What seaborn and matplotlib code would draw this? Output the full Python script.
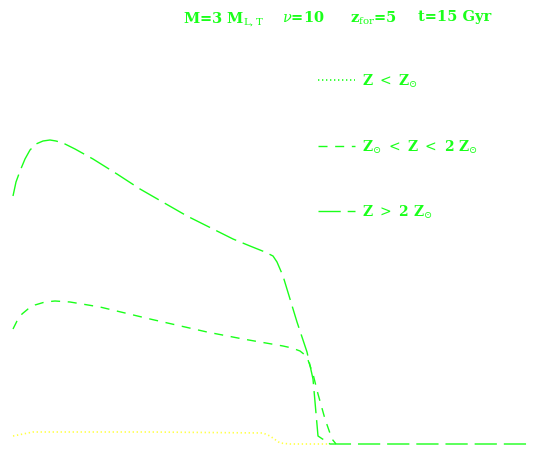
import numpy as np
import pandas as pd
import matplotlib
matplotlib.use("Agg")
import matplotlib.pyplot as plt
import seaborn as sns

# --- data (x in arbitrary units, y = height above baseline) ---
x_low = [13, 33, 60, 150, 263, 270, 280, 290, 330]
y_low = [8, 12, 12, 12, 11, 8, 1, 0, 0]

x_mid = [13, 17, 22, 28, 35, 45, 55, 70, 100, 150, 207, 243, 283, 292, 300, 305, 308,
         313, 318, 325, 332, 336]
y_mid = [115, 123, 130, 135, 139, 142, 143, 142, 137, 125, 112, 105, 98, 96, 93, 89, 84,
         70, 50, 25, 5, 0]

x_high = [13, 16, 20, 25, 30, 36, 43, 50, 56, 63, 75, 93, 117, 140, 187, 233, 250, 265,
          273, 277, 283, 297, 307, 313, 318, 330, 530]
y_high = [248, 262, 273, 285, 294, 300, 303, 304, 303, 301, 295, 285, 270, 255, 228, 205,
          198, 192, 188, 182, 168, 122, 92, 65, 8, 0, 0]

labels = [r"Z $<$ Z$_{\odot}$",
          r"Z$_{\odot}$ $<$ Z $<$ 2 Z$_{\odot}$",
          r"Z $>$ 2 Z$_{\odot}$"]

title_parts = [r"M=3 M$_{\rm L,T}$", r"$\nu$=10", r"z$_{\rm for}$=5", "t=15 Gyr"]

GREEN = "#1aff1a"
YELLOW = "#ffff44"

sns.set_style("white")
plt.rcParams["font.family"] = ["DejaVu Serif"]
plt.rcParams["mathtext.fontset"] = "dejavuserif"

fig = plt.figure(figsize=(5.34, 4.52), dpi=100)
ax = fig.add_axes([0, 0, 1, 1])

df_low = pd.DataFrame({"x": x_low, "y": y_low})
df_mid = pd.DataFrame({"x": x_mid, "y": y_mid})
df_high = pd.DataFrame({"x": x_high, "y": y_high})

sns.lineplot(data=df_low, x="x", y="y", ax=ax, sort=False, color=YELLOW,
             linestyle=(0, (0.8, 1.6)), linewidth=1.2, label=labels[0])
sns.lineplot(data=df_mid, x="x", y="y", ax=ax, sort=False, color=GREEN,
             linestyle=(0, (6.5, 5.5)), linewidth=1.0, label=labels[1])
sns.lineplot(data=df_high, x="x", y="y", ax=ax, sort=False, color=GREEN,
             linestyle=(0, (16, 5)), linewidth=1.0, label=labels[2])

ax.set_xlim(0, 534)
ax.set_ylim(-7, 445)
ax.set_axis_off()

leg = ax.legend(loc="upper left", bbox_to_anchor=(0.572, 0.866), frameon=False,
                prop={"size": 10, "weight": "bold"}, handlelength=2.7,
                handletextpad=0.45, labelspacing=3.45)
for t in leg.get_texts():
    t.set_color(GREEN)
# first legend sample shown in green in the reference
leg.legend_handles[0].set_color(GREEN)

# header pieces, left edges in figure fraction
for part, xf in zip(title_parts, [0.343, 0.528, 0.655, 0.783]):
    fig.text(xf, 0.978, part, color=GREEN, fontsize=10.5, fontweight="bold",
             ha="left", va="top")

fig.savefig("out.png", dpi=100, facecolor="white")
